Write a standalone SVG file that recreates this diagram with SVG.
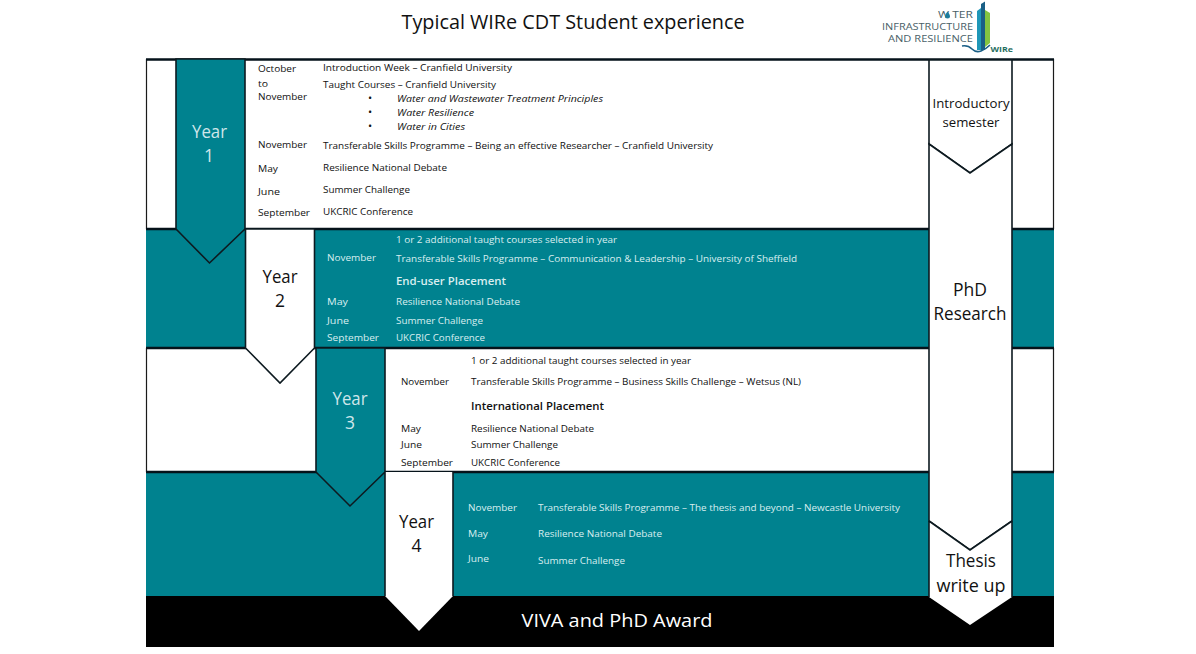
<svg xmlns="http://www.w3.org/2000/svg" width="1196" height="654" viewBox="0 0 1196 654">
<style>
text{font-family:"Open Sans","Noto Sans","Liberation Sans",sans-serif;fill:#111}
.s{font-size:9.6px}
.w{fill:#d9eef0}
.big{font-size:17.5px;text-anchor:middle}
.wide{font-size:17.5px;text-anchor:middle}
.lb{fill:#cfe6ea}
.i{font-style:italic}
.b{font-weight:600;font-size:10.5px}
.arrow{stroke:#0d1a20;stroke-width:1.6;stroke-linejoin:miter}
.teal{fill:#00828f}
.white{fill:#fff}
.rule{stroke:#05121a;stroke-width:2.4;fill:none}
.edge{stroke:#1a1a1a;stroke-width:1.2;fill:none}
.logo{font-size:9px;fill:#4a5f68;text-anchor:end}
</style>
<rect width="1196" height="654" fill="#fff"/>
<text x="573" y="29" font-size="20" text-anchor="middle" textLength="343" lengthAdjust="spacingAndGlyphs">Typical WIRe CDT Student experience</text>

<g id="logo">
<text class="logo" x="973" y="18" textLength="35" lengthAdjust="spacingAndGlyphs">W TER</text>
<text class="logo" x="973" y="30" textLength="91" lengthAdjust="spacingAndGlyphs">INFRASTRUCTURE</text>
<text class="logo" x="973" y="42" textLength="85" lengthAdjust="spacingAndGlyphs">AND RESILIENCE</text>
<path d="M947.500 11.500q2.500 3 2.500 4.500a2.500 2.500 0 0 1-5 0q0-1.500 2.500-4.500z" fill="#1c7c9c"/>
<path d="M977 11L981 8V50H977Z" fill="#1e97b8"/>
<path d="M981 4L985 1.500V50H981Z" fill="#1a5f86"/>
<path d="M985 10L990 13V43L985 47Z" fill="#84c441"/>
<path d="M962 46q6-1 10 3t9 2 9-6" fill="none" stroke="#1a5f86" stroke-width="1.600"/>
<text x="990.500" y="52" font-size="7.500" font-weight="700" style="fill:#1f6e5e" textLength="22.500" lengthAdjust="spacingAndGlyphs">WIRe</text>
</g>

<g id="bands">
<rect class="white" x="146" y="59" width="908" height="170"/>
<rect class="teal" x="146" y="229" width="908" height="119"/>
<rect class="white" x="146" y="348" width="908" height="124"/>
<rect class="teal" x="146" y="472" width="908" height="124"/>
<rect x="146" y="596" width="908" height="51" fill="#000"/>
<path class="edge" d="M146.500 59V229M146.500 348V472M1053.500 59V229M1053.500 348V472"/>
<path class="rule" d="M146 59.500H1054M146 229H1054M146 348H1054M146 472H1054"/>
</g>

<g id="connectors"></g>

<g id="year1">
<path class="arrow teal" d="M176 59V229L209.500 263L245 229V59Z"/>
<text class="big lb" x="209.500" y="138" textLength="35" lengthAdjust="spacingAndGlyphs">Year</text>
<text class="big lb" x="209" y="162">1</text>
</g>
<g id="year2">
<path class="arrow white" d="M245.500 229V348L280 383L314.500 348V229Z"/>
<text class="big" x="280" y="283" textLength="35" lengthAdjust="spacingAndGlyphs">Year</text>
<text class="big" x="280" y="307">2</text>
</g>
<g id="year3">
<path class="arrow teal" d="M316 348V472L350 506L385 472V348Z"/>
<text class="big lb" x="350" y="405" textLength="35" lengthAdjust="spacingAndGlyphs">Year</text>
<text class="big lb" x="350" y="429">3</text>
</g>
<g id="year4">
<path d="M385 472V596L419 631L453 596V472Z" class="white"/>
<path d="M385 472V596M453 472V596" class="arrow" fill="none"/>
<text class="big" x="416.500" y="528" textLength="35" lengthAdjust="spacingAndGlyphs">Year</text>
<text class="big" x="416.500" y="552">4</text>
</g>

<g id="intro">
<path class="arrow white" d="M929 60H1012V144L970 173L929 144Z"/>
<text x="971" y="108" font-size="13" text-anchor="middle" textLength="77" lengthAdjust="spacingAndGlyphs">Introductory</text>
<text x="971" y="127" font-size="13" text-anchor="middle" textLength="57" lengthAdjust="spacingAndGlyphs">semester</text>
</g>
<g id="phd">
<path class="arrow white" d="M929 144L970 173L1012 144V521L970 550L929 521Z"/>
<text class="wide" x="970" y="296" textLength="34" lengthAdjust="spacingAndGlyphs">PhD</text>
<text class="wide" x="970" y="320" textLength="73" lengthAdjust="spacingAndGlyphs">Research</text>
</g>
<g id="thesis">
<path d="M929 521L970 550L1012 521V597L970 625L929 597Z" class="white"/>
<path d="M929 521L970 550L1012 521M929 521V597M1012 521V597" class="arrow" fill="none"/>
<text class="wide" x="971" y="567" textLength="50" lengthAdjust="spacingAndGlyphs">Thesis</text>
<text class="wide" x="971" y="592" textLength="69" lengthAdjust="spacingAndGlyphs">write up</text>
</g>
<g id="viva">
<text x="617" y="627" font-size="19" text-anchor="middle" style="fill:#fff" textLength="191" lengthAdjust="spacingAndGlyphs">VIVA and PhD Award</text>
</g>

<g id="year1-text">
<text class="s" x="258" y="72" textLength="38" lengthAdjust="spacingAndGlyphs">October</text>
<text class="s" x="258" y="87" textLength="10" lengthAdjust="spacingAndGlyphs">to</text>
<text class="s" x="258" y="100" textLength="49" lengthAdjust="spacingAndGlyphs">November</text>
<text class="s" x="323" y="71" textLength="189" lengthAdjust="spacingAndGlyphs">Introduction Week – Cranfield University</text>
<text class="s" x="323" y="88" textLength="173" lengthAdjust="spacingAndGlyphs">Taught Courses – Cranfield University</text>
<text x="368" y="102" font-size="11">•</text>
<text x="368" y="116" font-size="11">•</text>
<text x="368" y="130" font-size="11">•</text>
<text class="s i" x="397" y="102" textLength="206" lengthAdjust="spacingAndGlyphs">Water and Wastewater Treatment Principles</text>
<text class="s i" x="397" y="116" textLength="77" lengthAdjust="spacingAndGlyphs">Water Resilience</text>
<text class="s i" x="397" y="130" textLength="68" lengthAdjust="spacingAndGlyphs">Water in Cities</text>
<text class="s" x="258" y="148" textLength="49" lengthAdjust="spacingAndGlyphs">November</text>
<text class="s" x="323" y="149" textLength="390" lengthAdjust="spacingAndGlyphs">Transferable Skills Programme – Being an effective Researcher – Cranfield University</text>
<text class="s" x="258" y="172" textLength="20" lengthAdjust="spacingAndGlyphs">May</text>
<text class="s" x="323" y="171" textLength="124" lengthAdjust="spacingAndGlyphs">Resilience National Debate</text>
<text class="s" x="258" y="195" textLength="22" lengthAdjust="spacingAndGlyphs">June</text>
<text class="s" x="323" y="193" textLength="87" lengthAdjust="spacingAndGlyphs">Summer Challenge</text>
<text class="s" x="258" y="216" textLength="52" lengthAdjust="spacingAndGlyphs">September</text>
<text class="s" x="323" y="215" textLength="90" lengthAdjust="spacingAndGlyphs">UKCRIC Conference</text>
</g>

<g id="year2-text">
<text class="s w" x="396" y="243" textLength="221" lengthAdjust="spacingAndGlyphs">1 or 2 additional taught courses selected in year</text>
<text class="s w" x="327" y="261" textLength="49" lengthAdjust="spacingAndGlyphs">November</text>
<text class="s w" x="396" y="262" textLength="401" lengthAdjust="spacingAndGlyphs">Transferable Skills Programme – Communication &amp; Leadership – University of Sheffield</text>
<text class="b w" x="396" y="285" textLength="110" lengthAdjust="spacingAndGlyphs">End-user Placement</text>
<text class="s w" x="327" y="305" textLength="21" lengthAdjust="spacingAndGlyphs">May</text>
<text class="s w" x="396" y="305" textLength="124" lengthAdjust="spacingAndGlyphs">Resilience National Debate</text>
<text class="s w" x="327" y="324" textLength="22" lengthAdjust="spacingAndGlyphs">June</text>
<text class="s w" x="396" y="324" textLength="87" lengthAdjust="spacingAndGlyphs">Summer Challenge</text>
<text class="s w" x="327" y="341" textLength="52" lengthAdjust="spacingAndGlyphs">September</text>
<text class="s w" x="396" y="341" textLength="89" lengthAdjust="spacingAndGlyphs">UKCRIC Conference</text>
</g>

<g id="year3-text">
<text class="s" x="471" y="364" textLength="220" lengthAdjust="spacingAndGlyphs">1 or 2 additional taught courses selected in year</text>
<text class="s" x="401" y="385" textLength="48" lengthAdjust="spacingAndGlyphs">November</text>
<text class="s" x="471" y="385" textLength="330" lengthAdjust="spacingAndGlyphs">Transferable Skills Programme – Business Skills Challenge – Wetsus (NL)</text>
<text class="b" x="471" y="410" textLength="133" lengthAdjust="spacingAndGlyphs">International Placement</text>
<text class="s" x="401" y="432" textLength="20" lengthAdjust="spacingAndGlyphs">May</text>
<text class="s" x="471" y="432" textLength="123" lengthAdjust="spacingAndGlyphs">Resilience National Debate</text>
<text class="s" x="401" y="448" textLength="21" lengthAdjust="spacingAndGlyphs">June</text>
<text class="s" x="471" y="448" textLength="87" lengthAdjust="spacingAndGlyphs">Summer Challenge</text>
<text class="s" x="401" y="466" textLength="52" lengthAdjust="spacingAndGlyphs">September</text>
<text class="s" x="471" y="466" textLength="89" lengthAdjust="spacingAndGlyphs">UKCRIC Conference</text>
</g>

<g id="year4-text">
<text class="s w" x="468" y="511" textLength="49" lengthAdjust="spacingAndGlyphs">November</text>
<text class="s w" x="538" y="511" textLength="362" lengthAdjust="spacingAndGlyphs">Transferable Skills Programme – The thesis and beyond – Newcastle University</text>
<text class="s w" x="468" y="537" textLength="20" lengthAdjust="spacingAndGlyphs">May</text>
<text class="s w" x="538" y="537" textLength="124" lengthAdjust="spacingAndGlyphs">Resilience National Debate</text>
<text class="s w" x="468" y="562" textLength="21" lengthAdjust="spacingAndGlyphs">June</text>
<text class="s w" x="538" y="564" textLength="87" lengthAdjust="spacingAndGlyphs">Summer Challenge</text>
</g>
</svg>
